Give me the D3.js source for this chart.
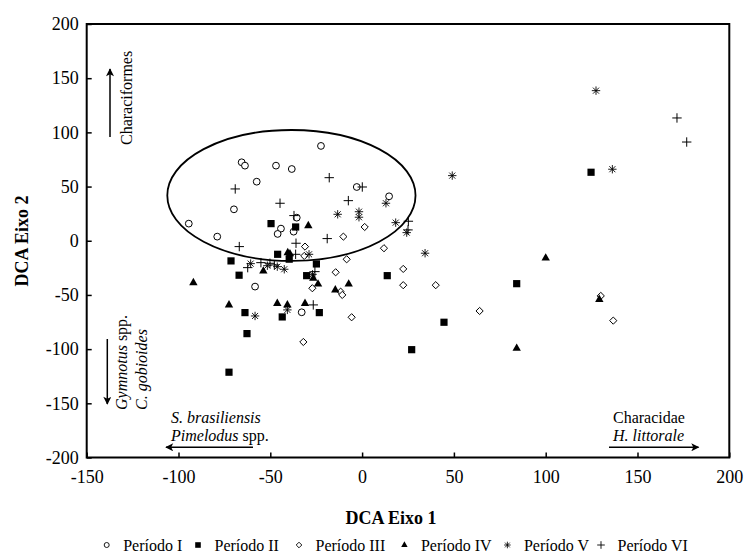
<!DOCTYPE html>
<html><head><meta charset="utf-8">
<script src="https://cdn.jsdelivr.net/npm/d3@7/dist/d3.min.js"></script>
<style>
body{margin:0;background:#fff}
svg text{font-family:"Liberation Serif","DejaVu Serif",serif !important;fill:#000}
</style>
</head><body>
<svg id="chart" width="747" height="552" font-family="Liberation Serif, serif"></svg>
<script>
// ---- data ----
const xTicks = [-150, -100, -50, 0, 50, 100, 150, 200];
const yTicks = [-200, -150, -100, -50, 0, 50, 100, 150, 200];
const seriesNames = ["Período I", "Período II", "Período III", "Período IV", "Período V", "Período VI"];
const periodoI = [[-22.4,87.5],[-65.6,72.4],[-63.8,69.3],[-46.9,69.3],[-38.3,66.2],[-57.4,54.5],[-2.9,49.6],[14.7,41],
  [-69.8,29],[-94.4,15.8],[-78.9,3.8],[-35.6,21.3],[-44.2,11.2],[-46,6.3],[-37.3,8.4],[-58.3,-42.3],[-32.9,-66]];
const periodoII = [[124.7,63.2],[13.7,-32.2],[84.2,-39.6],[44.6,-75.2],[27,-100.5],[-49.6,15.8],[-36.2,12.7],[-46,-12.5],
  [-39.7,-17],[-71.4,-18.6],[-67,-31.8],[-24.9,-21.4],[-30.2,-32.2],[-63.8,-66.3],[-62.7,-85.7],[-72.5,-121.3],[-43.5,-70.3],[-23.3,-66.3]];
const periodoIII = [[1.4,12.7],[11.9,-6.9],[22.4,-26],[22.4,-41],[40.1,-41],[64,-64.8],[130,-50.9],[136.8,-73.7],[-5.7,-70.6],
  [-10.2,3.8],[-31.1,-5.4],[-31.5,-14],[-14.4,-29.1],[-8.4,-17.1],[-11.7,-47],[-10.8,-50],[-27.1,-43.8],[-32,-93.4]];
const periodoIV = [[100,-15.9],[84.2,-99.2],[129.2,-54],[-7.3,-39.9],[-29.3,14],[-40.5,-11],[-39.3,-12],[-91.9,-38.7],[-53.8,-27.9],
  [-24,-39.9],[-26.6,-34.6],[-14.6,-45.4],[-72.5,-59.2],[-46.2,-57.7],[-40.7,-59.2],[-31.1,-57.7]];
const periodoV = [[127.4,138.5],[136.3,66],[49.1,60.1],[13,34.6],[-1.7,26.8],[-1.7,21.7],[18.3,16.7],[24.3,7.5],[34.3,-11.5],
  [-13.3,24.4],[-28.9,-12.5],[-60.7,-21.1],[-51.6,-23],[-46.2,-23.9],[-42.4,-26.3],[-58.3,-69.4],[-40.7,-63.8],[-27,-31]];
const periodoVI = [[171.5,113.3],[176.8,91.1],[0.1,49.6],[25.2,18],[25,10],[-17.9,58.2],[-69.1,47.8],[-7.5,37],[-44.7,34.6],
  [-66.9,-5.4],[-37.1,23.2],[-19,2],[-36,-2.3],[-36.2,-12.5],[-62.3,-24.8],[-55.1,-20.2],[-50.2,-20.8],[-47.8,-22.3],[-25.7,-28.5],[-26.6,-59.2]];
const groupEllipse = {cx: -38.5, cy: 41.8, rx: 67.6, ry: 60.4};

// ---- layout ----
const SERIF = '"Liberation Serif","DejaVu Serif",serif';
const svg = d3.select("#chart");
const L = 86.7, R = 729.3, T = 24, B = 457.5;
const x = d3.scaleLinear().domain([-150, 200]).range([L, R]);
const y = d3.scaleLinear().domain([-200, 200]).range([B, T]);

const shapes = {
  circle: s => `M${s},0A${s},${s} 0 1,1 ${-s},0A${s},${s} 0 1,1 ${s},0Z`,
  square: s => `M${-s},${-s}H${s}V${s}H${-s}Z`,
  diamond: s => `M0,${-s}L${s},0L0,${s}L${-s},0Z`,
  triangle: s => `M0,${-s*1.15}L${s},${s*0.62}L${-s},${s*0.62}Z`,
  asterisk: s => `M0,${-s}V${s}M${-s},0H${s}M${-s*0.72},${-s*0.72}L${s*0.72},${s*0.72}M${-s*0.72},${s*0.72}L${s*0.72},${-s*0.72}`,
  plus: s => `M0,${-s}V${s}M${-s},0H${s}`
};
const series = [
  {data: periodoI, shape: "circle", size: 3.4, fill: "#fff", stroke: "#000", sw: 1, ls: 2.5},
  {data: periodoII, shape: "square", size: 3.6, fill: "#000", stroke: "none", sw: 0, ls: 2.8},
  {data: periodoIII, shape: "diamond", size: 3.6, fill: "#fff", stroke: "#000", sw: 1, ls: 2.8},
  {data: periodoIV, shape: "triangle", size: 4.2, fill: "#000", stroke: "none", sw: 0, ls: 3.2},
  {data: periodoV, shape: "asterisk", size: 4.2, fill: "none", stroke: "#000", sw: 0.9, ls: 3.3},
  {data: periodoVI, shape: "plus", size: 4.7, fill: "none", stroke: "#000", sw: 1, ls: 3.8}
];

// axes (inward ticks)
const xAxis = svg.append("g").attr("transform", `translate(0,${B})`)
  .call(d3.axisBottom(x).tickValues(xTicks).tickSize(-5).tickPadding(13).tickFormat(d => String(d)));
const yAxis = svg.append("g").attr("transform", `translate(${L},0)`)
  .call(d3.axisLeft(y).tickValues(yTicks).tickSize(-5).tickPadding(8).tickFormat(d => String(d)));
[xAxis, yAxis].forEach(g => {
  g.attr("font-family", SERIF);
  g.select(".domain").remove();
  g.selectAll(".tick line").attr("stroke", "#000").attr("stroke-width", 1.5);
  g.selectAll(".tick text").style("font-family", SERIF).style("font-size", "18px").attr("fill", "#000");
});
svg.append("rect").attr("x", L).attr("y", T).attr("width", R - L).attr("height", B - T)
  .attr("fill", "none").attr("stroke", "#000").attr("stroke-width", 2);

// ellipse
svg.append("ellipse")
  .attr("cx", x(groupEllipse.cx)).attr("cy", y(groupEllipse.cy))
  .attr("rx", x(groupEllipse.cx + groupEllipse.rx) - x(groupEllipse.cx))
  .attr("ry", y(groupEllipse.cy) - y(groupEllipse.cy + groupEllipse.ry))
  .attr("fill", "none").attr("stroke", "#000").attr("stroke-width", 1.8);

// points
series.forEach(s => {
  svg.append("g").selectAll("path").data(s.data).enter().append("path")
    .attr("transform", d => `translate(${x(d[0])},${y(d[1])})`)
    .attr("d", shapes[s.shape](s.size))
    .attr("fill", s.fill).attr("stroke", s.stroke).attr("stroke-width", s.sw);
});

// arrows
const defs = svg.append("defs");
defs.append("marker").attr("id", "ah").attr("viewBox", "0 0 10 10").attr("refX", 9).attr("refY", 5)
  .attr("markerWidth", 14).attr("markerHeight", 8).attr("markerUnits", "userSpaceOnUse")
  .attr("orient", "auto").append("path").attr("d", "M0,0L10,5L0,10L2.5,5Z").attr("fill", "#000");
function arrow(x1, y1, x2, y2) {
  svg.append("line").attr("x1", x1).attr("y1", y1).attr("x2", x2).attr("y2", y2)
    .attr("stroke", "#000").attr("stroke-width", 1.5).attr("marker-end", "url(#ah)");
}
arrow(110, 137, 110, 69);
arrow(107.3, 339, 107.3, 404);
arrow(253, 447.3, 166, 447.3);
arrow(609, 447.3, 698.5, 447.3);

// annotations
const FS = 16;
function txt(sel) { return sel.style("font-family", SERIF); }
txt(svg.append("text")).attr("transform", "translate(131.5,145) rotate(-90)").style("font-size", FS + "px").text("Characiformes");
const g1 = txt(svg.append("text")).attr("transform", "translate(126.5,410) rotate(-90)").style("font-size", FS + "px");
g1.append("tspan").style("font-style", "italic").text("Gymnotus");
g1.append("tspan").text(" spp.");
txt(svg.append("text")).attr("transform", "translate(146.5,410) rotate(-90)").style("font-size", FS + "px")
  .style("font-style", "italic").text("C. gobioides");
txt(svg.append("text")).attr("x", 171).attr("y", 423).style("font-size", FS + "px").style("font-style", "italic").text("S. brasiliensis");
const p1 = txt(svg.append("text")).attr("x", 171).attr("y", 441).style("font-size", FS + "px");
p1.append("tspan").style("font-style", "italic").text("Pimelodus");
p1.append("tspan").text(" spp.");
txt(svg.append("text")).attr("x", 613).attr("y", 423).style("font-size", FS + "px").text("Characidae");
txt(svg.append("text")).attr("x", 613).attr("y", 441).style("font-size", FS + "px").style("font-style", "italic").text("H. littorale");

// axis titles
txt(svg.append("text")).attr("x", 391).attr("y", 524).attr("text-anchor", "middle")
  .style("font-size", "18px").style("font-weight", "bold").text("DCA Eixo 1");
txt(svg.append("text")).attr("transform", "translate(28,241) rotate(-90)").attr("text-anchor", "middle")
  .style("font-size", "18px").style("font-weight", "bold").text("DCA Eixo 2");

// legend
const legX = [106.7, 198, 299, 404.4, 507.4, 601];
const legY = 545;
series.forEach((s, i) => {
  svg.append("path").attr("transform", `translate(${legX[i]},${legY})`)
    .attr("d", shapes[s.shape](s.ls))
    .attr("fill", s.fill).attr("stroke", s.stroke).attr("stroke-width", s.sw * 0.9);
  txt(svg.append("text")).attr("x", legX[i] + 16.5).attr("y", legY + 5.5).style("font-size", "16px").text(seriesNames[i]);
});
</script>
</body></html>
